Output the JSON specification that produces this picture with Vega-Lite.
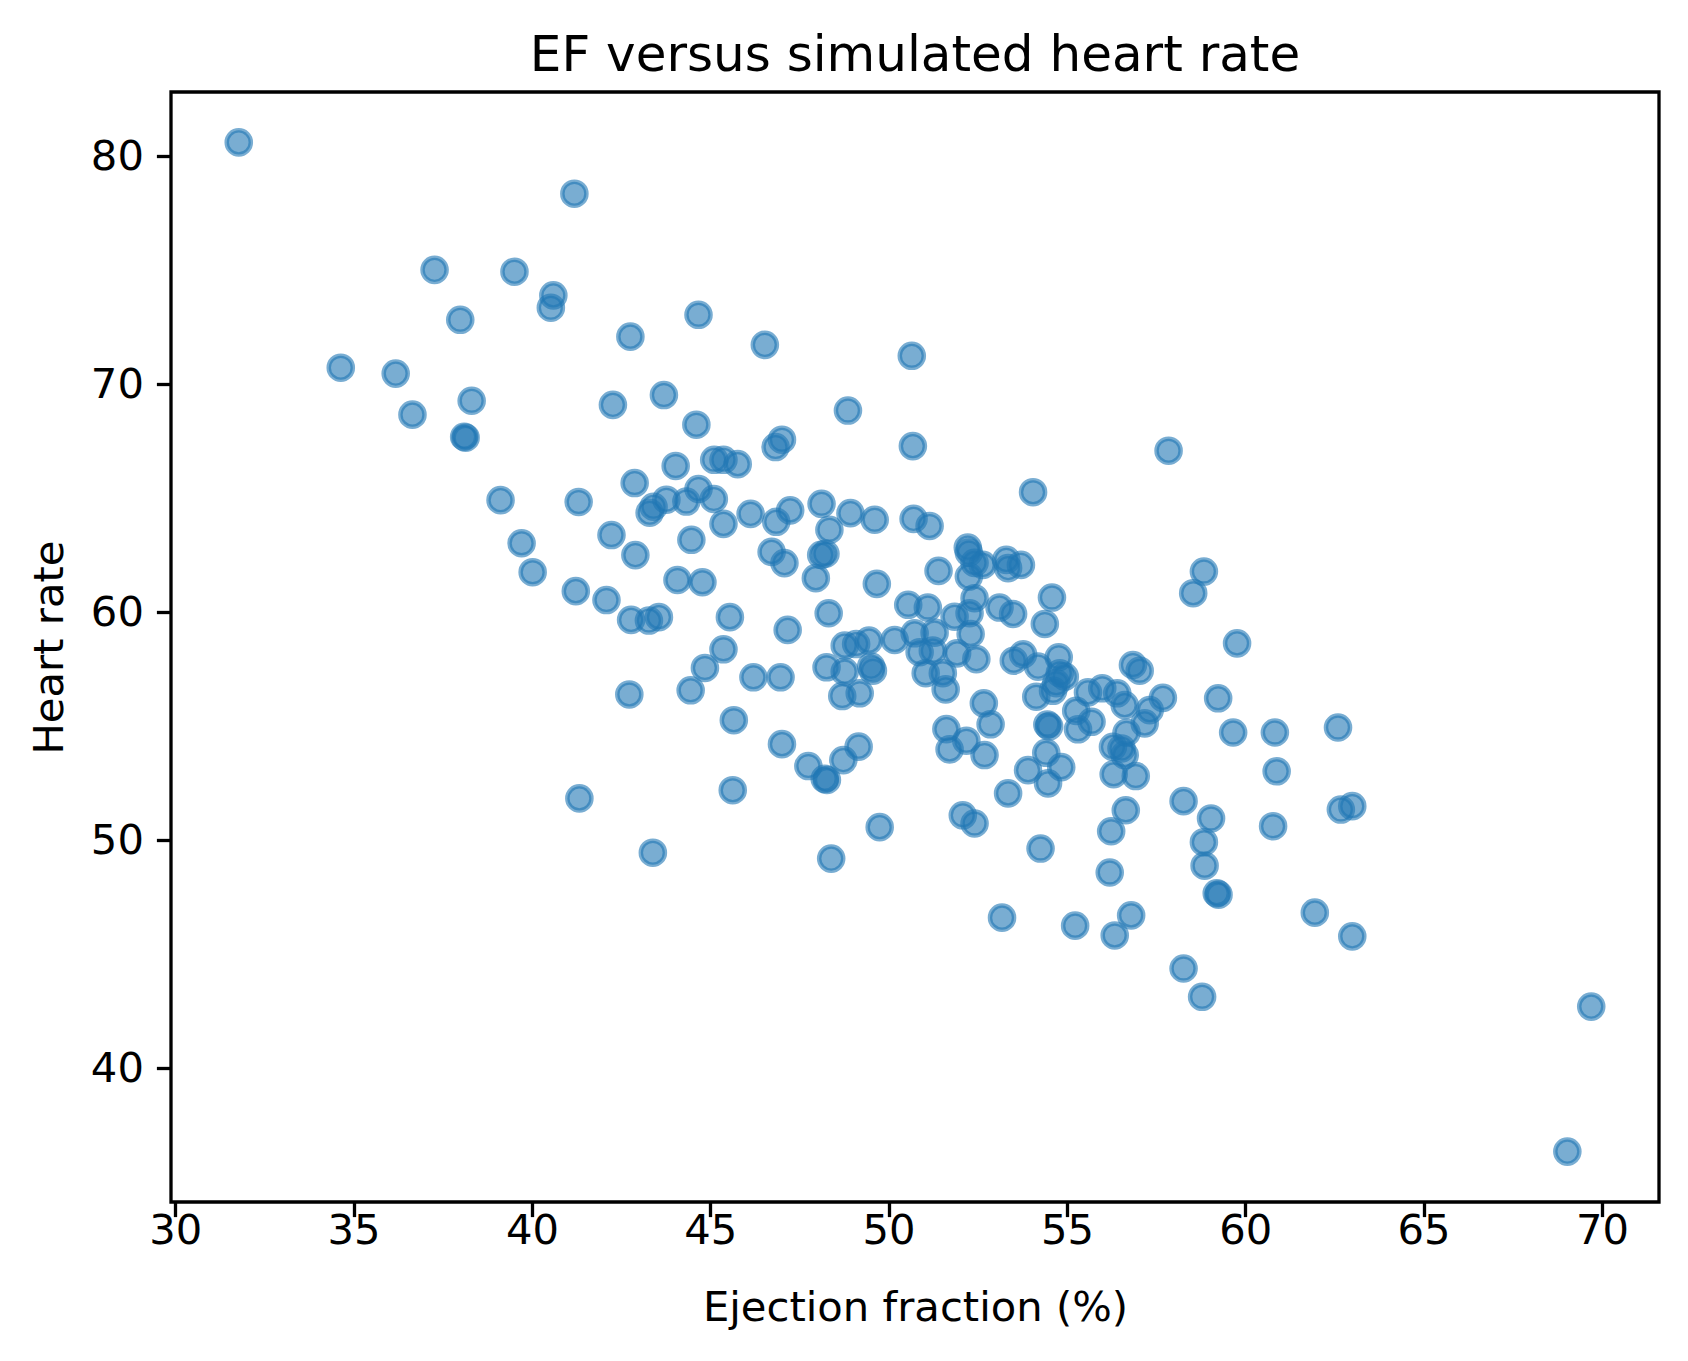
{
  "$schema": "https://vega.github.io/schema/vega-lite/v6.json",
  "description": "EF versus simulated heart rate scatter",
  "autosize": "none",
  "width": 1488,
  "height": 1110,
  "padding": {"left": 171, "top": 92, "right": 29, "bottom": 159},
  "background": "white",
  "config": {
    "font": "DejaVu Sans",
    "view": {"stroke": "black", "strokeWidth": 3.3},
    "axis": {
      "domain": false,
      "grid": false,
      "ticks": true,
      "tickColor": "black",
      "tickWidth": 3.3,
      "tickSize": 14.6,
      "labelFont": "DejaVu Sans",
      "labelFontSize": 41.7,
      "labelColor": "black",
      "labelPadding": 13,
      "titleFont": "DejaVu Sans",
      "titleFontSize": 41.7,
      "titleFontWeight": "normal",
      "titleColor": "black"
    }
  },
  "title": {
    "text": "EF versus simulated heart rate",
    "font": "DejaVu Sans",
    "fontSize": 50,
    "fontWeight": "normal",
    "color": "black",
    "anchor": "middle",
    "baseline": "bottom",
    "offset": 14,
    "dy": 53
  },
  "data": {
    "values": [
      {"ef": 31.78, "hr": 80.61},
      {"ef": 41.19, "hr": 78.36},
      {"ef": 37.27, "hr": 75.02},
      {"ef": 39.51, "hr": 74.94},
      {"ef": 40.60, "hr": 73.90},
      {"ef": 40.53, "hr": 73.36},
      {"ef": 37.99, "hr": 72.83},
      {"ef": 42.76, "hr": 72.09},
      {"ef": 34.64, "hr": 70.73},
      {"ef": 36.18, "hr": 70.47},
      {"ef": 38.31, "hr": 69.28},
      {"ef": 42.27, "hr": 69.10},
      {"ef": 36.65, "hr": 68.67},
      {"ef": 38.10, "hr": 67.70},
      {"ef": 38.14, "hr": 67.66},
      {"ef": 44.67, "hr": 73.05},
      {"ef": 46.53, "hr": 71.73},
      {"ef": 50.65, "hr": 71.25},
      {"ef": 43.70, "hr": 69.53},
      {"ef": 44.61, "hr": 68.23},
      {"ef": 48.86, "hr": 68.85},
      {"ef": 47.01, "hr": 67.57},
      {"ef": 46.83, "hr": 67.25},
      {"ef": 45.11, "hr": 66.69},
      {"ef": 45.37, "hr": 66.69},
      {"ef": 45.77, "hr": 66.50},
      {"ef": 44.03, "hr": 66.42},
      {"ef": 42.88, "hr": 65.67},
      {"ef": 43.77, "hr": 64.94},
      {"ef": 43.41, "hr": 64.63},
      {"ef": 43.30, "hr": 64.37},
      {"ef": 44.33, "hr": 64.86},
      {"ef": 44.67, "hr": 65.41},
      {"ef": 45.10, "hr": 64.97},
      {"ef": 39.12, "hr": 64.92},
      {"ef": 41.31, "hr": 64.84},
      {"ef": 42.23, "hr": 63.39},
      {"ef": 42.90, "hr": 62.51},
      {"ef": 44.47, "hr": 63.18},
      {"ef": 45.37, "hr": 63.88},
      {"ef": 46.13, "hr": 64.32},
      {"ef": 46.85, "hr": 63.97},
      {"ef": 47.24, "hr": 64.47},
      {"ef": 48.12, "hr": 64.76},
      {"ef": 48.93, "hr": 64.35},
      {"ef": 48.34, "hr": 63.62},
      {"ef": 48.11, "hr": 62.52},
      {"ef": 48.23, "hr": 62.57},
      {"ef": 47.96, "hr": 61.50},
      {"ef": 46.72, "hr": 62.65},
      {"ef": 47.08, "hr": 62.16},
      {"ef": 39.71, "hr": 63.03},
      {"ef": 40.02, "hr": 61.76},
      {"ef": 41.23, "hr": 60.93},
      {"ef": 42.09, "hr": 60.54},
      {"ef": 44.08, "hr": 61.42},
      {"ef": 44.78, "hr": 61.32},
      {"ef": 42.78, "hr": 59.67},
      {"ef": 43.28, "hr": 59.64},
      {"ef": 43.56, "hr": 59.79},
      {"ef": 45.55, "hr": 59.79},
      {"ef": 47.17, "hr": 59.23},
      {"ef": 48.32, "hr": 59.96},
      {"ef": 45.37, "hr": 58.38},
      {"ef": 44.85, "hr": 57.56},
      {"ef": 44.45, "hr": 56.58},
      {"ef": 46.21, "hr": 57.15},
      {"ef": 46.97, "hr": 57.15},
      {"ef": 48.26, "hr": 57.59},
      {"ef": 48.77, "hr": 57.40},
      {"ef": 48.70, "hr": 56.33},
      {"ef": 42.73, "hr": 56.40},
      {"ef": 45.66, "hr": 55.27},
      {"ef": 47.01, "hr": 54.22},
      {"ef": 47.75, "hr": 53.26},
      {"ef": 48.21, "hr": 52.70},
      {"ef": 48.27, "hr": 52.65},
      {"ef": 48.73, "hr": 53.52},
      {"ef": 49.16, "hr": 54.11},
      {"ef": 50.68, "hr": 67.29},
      {"ef": 57.85, "hr": 67.09},
      {"ef": 54.05, "hr": 65.27},
      {"ef": 49.61, "hr": 64.06},
      {"ef": 50.70, "hr": 64.10},
      {"ef": 51.15, "hr": 63.79},
      {"ef": 52.22, "hr": 62.84},
      {"ef": 52.25, "hr": 62.62},
      {"ef": 52.41, "hr": 62.17},
      {"ef": 52.64, "hr": 62.08},
      {"ef": 52.25, "hr": 61.57},
      {"ef": 53.30, "hr": 62.30},
      {"ef": 53.35, "hr": 61.94},
      {"ef": 53.71, "hr": 62.08},
      {"ef": 51.40, "hr": 61.82},
      {"ef": 49.67, "hr": 61.25},
      {"ef": 54.58, "hr": 60.65},
      {"ef": 54.38, "hr": 59.49},
      {"ef": 52.41, "hr": 60.62},
      {"ef": 50.55, "hr": 60.33},
      {"ef": 51.10, "hr": 60.21},
      {"ef": 51.85, "hr": 59.81},
      {"ef": 52.27, "hr": 59.96},
      {"ef": 53.11, "hr": 60.21},
      {"ef": 53.49, "hr": 59.93},
      {"ef": 52.30, "hr": 59.05},
      {"ef": 50.73, "hr": 59.08},
      {"ef": 51.29, "hr": 59.11},
      {"ef": 48.77, "hr": 58.54},
      {"ef": 49.09, "hr": 58.61},
      {"ef": 49.45, "hr": 58.76},
      {"ef": 50.17, "hr": 58.79},
      {"ef": 50.87, "hr": 58.25},
      {"ef": 51.24, "hr": 58.32},
      {"ef": 51.92, "hr": 58.20},
      {"ef": 52.46, "hr": 57.95},
      {"ef": 49.51, "hr": 57.62},
      {"ef": 49.56, "hr": 57.44},
      {"ef": 51.04, "hr": 57.33},
      {"ef": 51.52, "hr": 57.33},
      {"ef": 51.60, "hr": 56.62},
      {"ef": 49.19, "hr": 56.45},
      {"ef": 53.51, "hr": 57.88},
      {"ef": 53.77, "hr": 58.16},
      {"ef": 54.19, "hr": 57.62},
      {"ef": 54.77, "hr": 58.03},
      {"ef": 54.80, "hr": 57.33},
      {"ef": 54.94, "hr": 57.18},
      {"ef": 54.70, "hr": 56.89},
      {"ef": 54.14, "hr": 56.30},
      {"ef": 54.61, "hr": 56.56},
      {"ef": 56.85, "hr": 57.69},
      {"ef": 57.04, "hr": 57.44},
      {"ef": 58.84, "hr": 61.79},
      {"ef": 58.54, "hr": 60.84},
      {"ef": 59.77, "hr": 58.64},
      {"ef": 55.59, "hr": 56.49},
      {"ef": 55.99, "hr": 56.67},
      {"ef": 56.41, "hr": 56.45},
      {"ef": 56.62, "hr": 55.93},
      {"ef": 55.26, "hr": 55.68},
      {"ef": 55.31, "hr": 54.87},
      {"ef": 55.69, "hr": 55.20},
      {"ef": 57.32, "hr": 55.71},
      {"ef": 57.18, "hr": 55.13},
      {"ef": 57.69, "hr": 56.25},
      {"ef": 59.24, "hr": 56.23},
      {"ef": 59.66, "hr": 54.73},
      {"ef": 60.83, "hr": 54.73},
      {"ef": 60.88, "hr": 53.03},
      {"ef": 52.67, "hr": 56.01},
      {"ef": 52.86, "hr": 55.09},
      {"ef": 51.62, "hr": 54.88},
      {"ef": 51.71, "hr": 53.99},
      {"ef": 52.18, "hr": 54.37},
      {"ef": 52.69, "hr": 53.74},
      {"ef": 54.45, "hr": 55.08},
      {"ef": 54.50, "hr": 55.00},
      {"ef": 54.42, "hr": 53.84},
      {"ef": 54.84, "hr": 53.21},
      {"ef": 53.91, "hr": 53.08},
      {"ef": 54.47, "hr": 52.50},
      {"ef": 56.67, "hr": 54.72},
      {"ef": 56.29, "hr": 54.10},
      {"ef": 56.53, "hr": 54.03},
      {"ef": 56.62, "hr": 53.74},
      {"ef": 56.31, "hr": 52.90},
      {"ef": 56.93, "hr": 52.82},
      {"ef": 41.33, "hr": 51.84},
      {"ef": 45.63, "hr": 52.20},
      {"ef": 43.39, "hr": 49.46},
      {"ef": 48.39, "hr": 49.20},
      {"ef": 49.75, "hr": 50.58},
      {"ef": 52.08, "hr": 51.10},
      {"ef": 52.41, "hr": 50.74},
      {"ef": 53.35, "hr": 52.06},
      {"ef": 54.26, "hr": 49.64},
      {"ef": 56.65, "hr": 51.32},
      {"ef": 56.24, "hr": 50.40},
      {"ef": 56.20, "hr": 48.59},
      {"ef": 58.27, "hr": 51.72},
      {"ef": 59.04, "hr": 50.96},
      {"ef": 58.84, "hr": 49.92},
      {"ef": 58.86, "hr": 48.89},
      {"ef": 59.20, "hr": 47.68},
      {"ef": 59.25, "hr": 47.62},
      {"ef": 53.18, "hr": 46.61},
      {"ef": 55.23, "hr": 46.26},
      {"ef": 56.80, "hr": 46.71},
      {"ef": 56.34, "hr": 45.83},
      {"ef": 58.27, "hr": 44.38},
      {"ef": 58.79, "hr": 43.14},
      {"ef": 60.78, "hr": 50.62},
      {"ef": 62.68, "hr": 51.35},
      {"ef": 63.00, "hr": 51.50},
      {"ef": 61.95, "hr": 46.83},
      {"ef": 63.00, "hr": 45.79},
      {"ef": 69.70, "hr": 42.71},
      {"ef": 69.03, "hr": 36.35},
      {"ef": 62.60, "hr": 54.95}
    ]
  },
  "mark": {
    "type": "point",
    "shape": "circle",
    "filled": false,
    "fill": "#1f77b4",
    "fillOpacity": 0.6,
    "stroke": "#1f77b4",
    "strokeOpacity": 0.6,
    "strokeWidth": 4.5,
    "size": 580
  },
  "encoding": {
    "x": {
      "field": "ef",
      "type": "quantitative",
      "scale": {"domain": [29.88, 71.6], "nice": false, "zero": false},
      "axis": {
        "title": "Ejection fraction (%)",
        "values": [30, 35, 40, 45, 50, 55, 60, 65, 70],
        "labelAngle": 0,
        "labelPadding": -6,
        "titlePadding": 35
      }
    },
    "y": {
      "field": "hr",
      "type": "quantitative",
      "scale": {"domain": [34.14, 82.82], "nice": false, "zero": false},
      "axis": {
        "title": "Heart rate",
        "values": [40, 50, 60, 70, 80],
        "titlePadding": 19
      }
    }
  }
}
